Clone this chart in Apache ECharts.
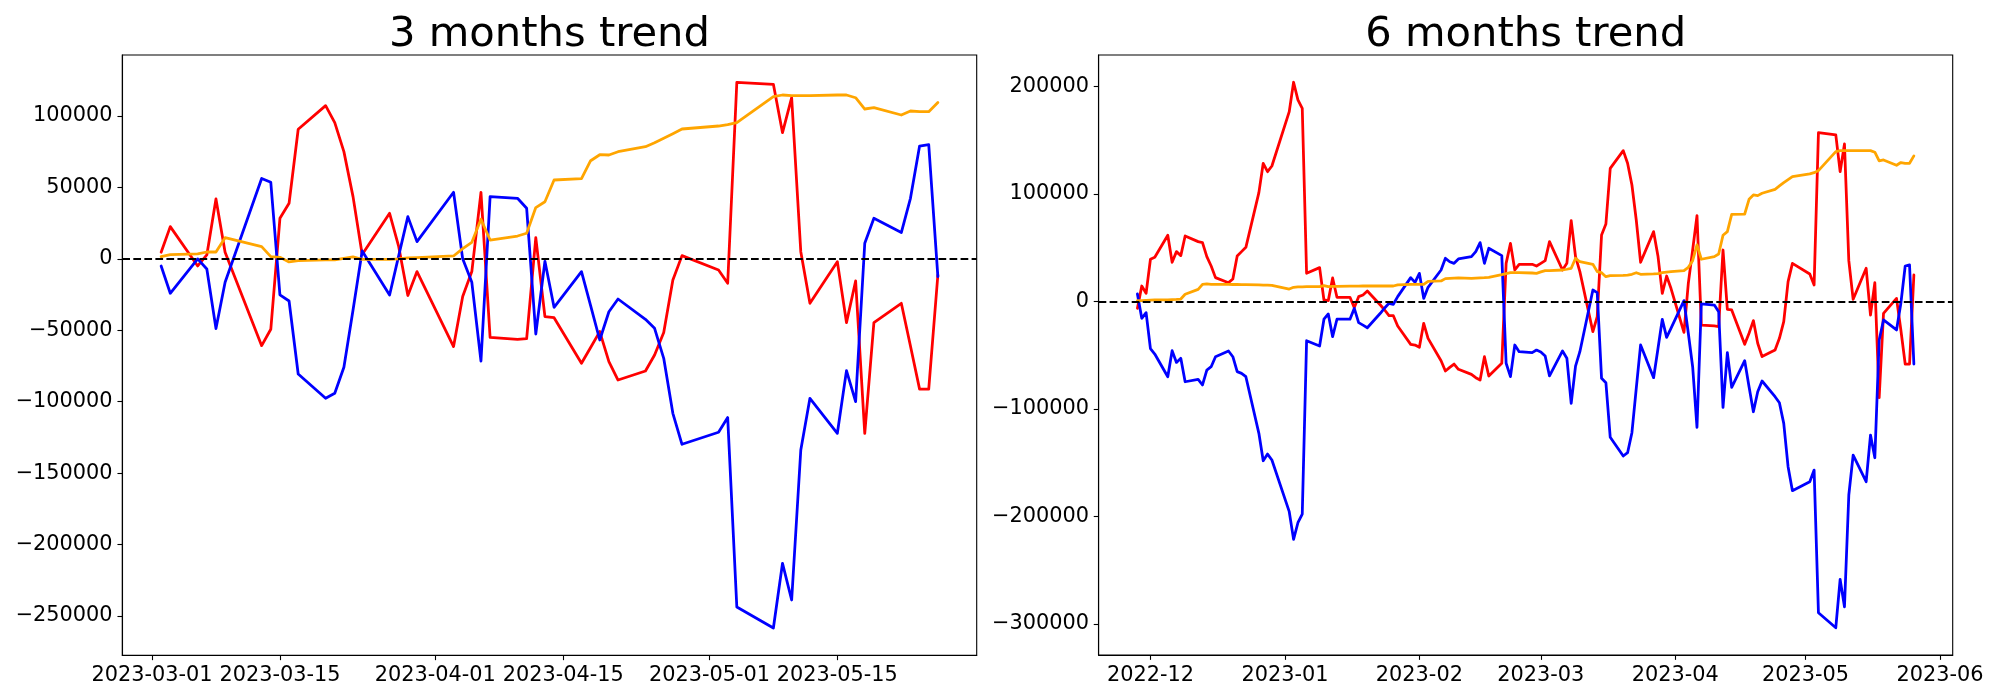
<!DOCTYPE html>
<html><head><meta charset="utf-8">
<script src="https://cdn.jsdelivr.net/npm/echarts@6/dist/echarts.min.js"></script>
<style>html,body{margin:0;padding:0;background:#fff}#c{width:2000px;height:700px}</style>
</head><body><div id="c"></div>
<script>
const titles = ['3 months trend', '6 months trend'];

const dates3 = ['2023-03-02','2023-03-03','2023-03-06','2023-03-07','2023-03-08','2023-03-09','2023-03-13','2023-03-14','2023-03-15','2023-03-16','2023-03-17','2023-03-20','2023-03-21','2023-03-22','2023-03-23','2023-03-24','2023-03-27','2023-03-28','2023-03-29','2023-03-30',
'2023-04-03','2023-04-04','2023-04-05','2023-04-06','2023-04-07','2023-04-10','2023-04-11','2023-04-12','2023-04-13','2023-04-14','2023-04-17','2023-04-18','2023-04-19','2023-04-20','2023-04-21','2023-04-24','2023-04-25','2023-04-26','2023-04-27','2023-04-28',
'2023-05-02','2023-05-03','2023-05-04','2023-05-08','2023-05-09','2023-05-10','2023-05-11','2023-05-12','2023-05-15','2023-05-16','2023-05-17','2023-05-18','2023-05-19','2023-05-22','2023-05-23','2023-05-24','2023-05-25','2023-05-26'];
const red3 = [4600,22560,-4970,2730,41930,4600,-60740,-49300,28400,38900,90700,107250,95350,75060,43560,3000,31900,8560,-25700,-8900,
-61400,-26400,-8900,46600,-54900,-56300,-55800,14860,-40400,-41200,-73100,-62000,-50900,-72000,-84800,-78500,-67300,-51600,-14800,2260,
-7770,-17100,123600,122200,88300,112800,5060,-31100,-1950,-44600,-15450,-122100,-44600,-31100,-61000,-91200,-91200,-11300];
const blue3 = [-4970,-24100,0,-7070,-48800,-16400,56300,53600,-25270,-29500,-80600,-97600,-94100,-75900,-35800,5530,-25270,2260,29560,12060,
46600,0,-16400,-71500,43560,42400,35400,-52600,-1700,-33900,-8960,-32700,-56800,-37000,-28100,-42300,-48600,-69600,-108100,-129800,
-121400,-111100,-243700,-258400,-213100,-238800,-133800,-97600,-122100,-78200,-99900,10900,28400,18400,42400,79000,79900,-12500];
const orange3 = [1560,2960,3430,4800,4800,14860,8560,1560,1100,-2170,-1240,-770,-770,400,1330,-300,-300,0,630,860,
2030,7160,11600,27700,13200,16000,17900,35900,40000,55200,56100,68700,72900,72700,75000,78500,81300,84400,87600,90900,
93000,93900,95300,113500,114700,114200,114200,114200,114700,114700,112800,104900,105800,100700,103500,103000,103000,109500];

const dates6 = ['2022-11-28','2022-11-29','2022-11-30',
'2022-12-01','2022-12-02','2022-12-05','2022-12-06','2022-12-07','2022-12-08','2022-12-09','2022-12-12','2022-12-13','2022-12-14','2022-12-15','2022-12-16','2022-12-19','2022-12-20','2022-12-21','2022-12-22','2022-12-23','2022-12-26','2022-12-27','2022-12-28','2022-12-29',
'2023-01-02','2023-01-03','2023-01-04','2023-01-05','2023-01-06','2023-01-09','2023-01-10','2023-01-11','2023-01-12','2023-01-13','2023-01-16','2023-01-17','2023-01-18','2023-01-19','2023-01-20','2023-01-23','2023-01-24','2023-01-25','2023-01-26','2023-01-27','2023-01-30','2023-01-31',
'2023-02-01','2023-02-02','2023-02-03','2023-02-06','2023-02-07','2023-02-08','2023-02-09','2023-02-10','2023-02-13','2023-02-14','2023-02-15','2023-02-16','2023-02-17','2023-02-20','2023-02-21','2023-02-22','2023-02-23','2023-02-24','2023-02-27','2023-02-28',
'2023-03-01','2023-03-02','2023-03-03','2023-03-06','2023-03-07','2023-03-08','2023-03-09','2023-03-10','2023-03-13','2023-03-14','2023-03-15','2023-03-16','2023-03-17','2023-03-20','2023-03-21','2023-03-22','2023-03-23','2023-03-24','2023-03-27','2023-03-28','2023-03-29','2023-03-30','2023-03-31',
'2023-04-03','2023-04-04','2023-04-05','2023-04-06','2023-04-07','2023-04-10','2023-04-11','2023-04-12','2023-04-13','2023-04-14','2023-04-17','2023-04-18','2023-04-19','2023-04-20','2023-04-21','2023-04-24','2023-04-25','2023-04-26','2023-04-27','2023-04-28',
'2023-05-02','2023-05-03','2023-05-04','2023-05-08','2023-05-09','2023-05-10','2023-05-11','2023-05-12','2023-05-15','2023-05-16','2023-05-17','2023-05-18','2023-05-19','2023-05-22','2023-05-23','2023-05-24','2023-05-25','2023-05-26'];
const red6 = [-6400,14400,7600,
39300,41200,61600,36500,46400,42700,61000,55700,54800,41700,33000,22200,17500,20900,42300,46400,50400,101300,128600,120800,126100,
176700,204000,187600,179800,26200,31500,1400,800,21900,3900,3900,-5700,4500,6100,9800,-3300,-7900,-13200,-13200,-22800,-39900,-40500,
-42600,-20300,-34300,-55100,-64700,-61300,-58200,-63100,-67800,-70900,-73100,-51400,-69400,-57500,35500,54100,29300,34600,34600,33000,
35500,38000,55700,29300,35500,75200,41700,27800,-28100,-14100,61900,72100,123900,140400,128600,108400,75800,36500,65000,42400,7600,23700,12300,
-28700,16900,47900,79900,-21900,-22800,-23400,47900,-7300,-7900,-39900,-29600,-17800,-38900,-51300,-45200,-34300,-18800,18500,35500,
25600,15400,157100,155000,120800,146600,38000,2000,30900,-12600,17500,-89500,-11000,2900,-26500,-58200,-58200,24700];
const blue6 = [7000,-15700,-10400,
-43900,-48900,-70000,-45800,-56700,-52900,-74700,-72400,-77700,-63800,-60700,-51400,-46100,-51400,-65300,-66900,-70000,-122700,-148200,-142000,-147500,
-195600,-221400,-205900,-197800,-36500,-41400,-16500,-11600,-32700,-16500,-16500,-6400,-19700,-22000,-24400,-11000,-6000,-1700,-2600,4500,22200,17800,
26200,2900,13200,29300,40200,37000,35500,39600,41700,46400,54800,35500,49500,42700,-57500,-69900,-40500,-46700,-47600,-45200,
-47000,-50700,-69300,-46000,-52800,-94800,-60100,-46700,10700,8200,-71500,-75600,-126400,-143800,-140700,-122100,-80800,-40500,-70900,-44000,-16600,-33400,-25000,
800,-29600,-60700,-117100,-2300,-3300,-9500,-98500,-47600,-79900,-55100,-79300,-102600,-84000,-74000,-88600,-94200,-113400,-153700,-176100,
-167700,-156900,-289700,-303600,-258600,-284100,-180100,-142900,-167700,-124300,-145400,-35800,-17200,-26500,-1700,33000,34000,-58200];
const orange6 = [800,800,1000,
1200,1400,1600,1800,2000,2300,6700,11300,16000,16300,16000,16000,16000,15800,15800,15700,15700,15500,15300,15200,15000,
11600,13200,13500,13600,13800,13800,14800,13800,14000,14100,14200,14300,14300,14400,14400,14400,14400,14400,14400,15400,16000,16000,
16000,16000,18800,19100,21300,21500,21700,21900,21600,21800,22000,22200,22500,25000,26000,26800,26800,26800,26500,26200,
27500,28700,28700,29300,30000,30900,40200,37000,34600,27800,26800,23100,24000,24300,24600,25300,26800,25300,25600,26000,26800,27300,27800,
28700,31800,38000,52600,39300,41700,44200,61600,65000,81100,81400,95100,99100,98500,100700,104400,107500,110600,113400,116200,
118700,119900,121800,139500,140400,140400,140400,140400,140400,140400,138900,130800,131700,126800,129300,128600,128600,135500];

const xTicks3 = ['2023-03-01','2023-03-15','2023-04-01','2023-04-15','2023-05-01','2023-05-15'];
const xTicks6 = ['2022-12','2023-01','2023-02','2023-03','2023-04','2023-05','2023-06'];
const yTicks3 = [-250000,-200000,-150000,-100000,-50000,0,50000,100000];
const yTicks6 = [-300000,-200000,-100000,0,100000,200000];

const toTs = s => { const p = s.split('-').map(Number); return Date.UTC(p[0], p[1]-1, p[2] || 1); };
const FONT = 'DejaVu Sans';
const TICKFS = 20.83;

function padRange(lo, hi) { const r = hi - lo; return [lo - 0.05*r, hi + 0.05*r]; }
function fmtY(v) { return v < 0 ? '\u2212' + Math.abs(v) : String(v); }

function buildPanel(gi, dates, red, blue, orange, xTicks, yTicks) {
  const xs = dates.map(toTs);
  const xr = padRange(xs[0], xs[xs.length-1]);
  const all = red.concat(blue, orange);
  const yr = padRange(Math.min.apply(null, all), Math.max.apply(null, all));
  const xt = xTicks.map(toTs);
  const lab = {}; xt.forEach((t,i) => lab[t] = xTicks[i]);
  const tickStyle = {show:true, length:4.86, lineStyle:{color:'#000', width:1.1}};
  const xAxis = {
    type:'value', gridIndex:gi, min:xr[0], max:xr[1], scale:true,
    axisLine:{show:true, onZero:false, lineStyle:{color:'#000', width:1.1}},
    axisTick:Object.assign({customValues: xt}, tickStyle),
    axisLabel:{customValues: xt, formatter: v => lab[v] !== undefined ? lab[v] : '', fontSize:TICKFS, color:'#000', fontFamily:FONT, margin:9.7, hideOverlap:false},
    splitLine:{show:false}
  };
  const yAxis = {
    type:'value', gridIndex:gi, min:yr[0], max:yr[1],
    axisLine:{show:true, onZero:false, lineStyle:{color:'#000', width:1.1}},
    axisTick:Object.assign({customValues: yTicks}, tickStyle),
    axisLabel:{customValues: yTicks, formatter: fmtY, fontSize:TICKFS, color:'#000', fontFamily:FONT, margin:9.7},
    splitLine:{show:false}
  };
  const mk = (vals, color, extra) => Object.assign({
    type:'line', xAxisIndex:gi, yAxisIndex:gi,
    data: xs.map((t,k) => [t, vals[k]]),
    showSymbol:false, symbol:'none', animation:false, silent:true,
    lineStyle:{color:color, width:2.78, join:'round', cap:'round'},
    emphasis:{disabled:true}
  }, extra || {});
  const series = [
    mk(red, '#ff0000'),
    mk(blue, '#0000ff'),
    mk(orange, '#ffa500', {markLine:{
      silent:true, symbol:['none','none'], animation:false,
      label:{show:false}, emphasis:{disabled:true},
      lineStyle:{color:'#000', width:2.08, type:[7.7,3.33]},
      data:[{yAxis:0}]
    }})
  ];
  return {xAxis, yAxis, series};
}

const p1 = buildPanel(0, dates3, red3, blue3, orange3, xTicks3, yTicks3);
const p2 = buildPanel(1, dates6, red6, blue6, orange6, xTicks6, yTicks6);

const grids = [
  {left:122.3, top:55, width:854.4, height:600.3},
  {left:1098.6, top:55, width:854.1, height:600}
];
const chart = echarts.init(document.getElementById('c'), null, {renderer:'canvas'});
chart.setOption({
  backgroundColor:'#fff',
  animation:false,
  title: titles.map((t,i) => ({
    text:t, left: grids[i].left + grids[i].width/2, top:14, textAlign:'center', padding:0,
    textStyle:{fontSize:41.67, fontWeight:'normal', color:'#000', fontFamily:FONT}
  })),
  grid: grids.map(g => Object.assign({show:true, borderColor:'#000', borderWidth:1.1, backgroundColor:'transparent', outerBoundsMode:'none', containLabel:false}, g)),
  xAxis:[p1.xAxis, p2.xAxis],
  yAxis:[p1.yAxis, p2.yAxis],
  series: p1.series.concat(p2.series)
});
</script>
</body></html>
